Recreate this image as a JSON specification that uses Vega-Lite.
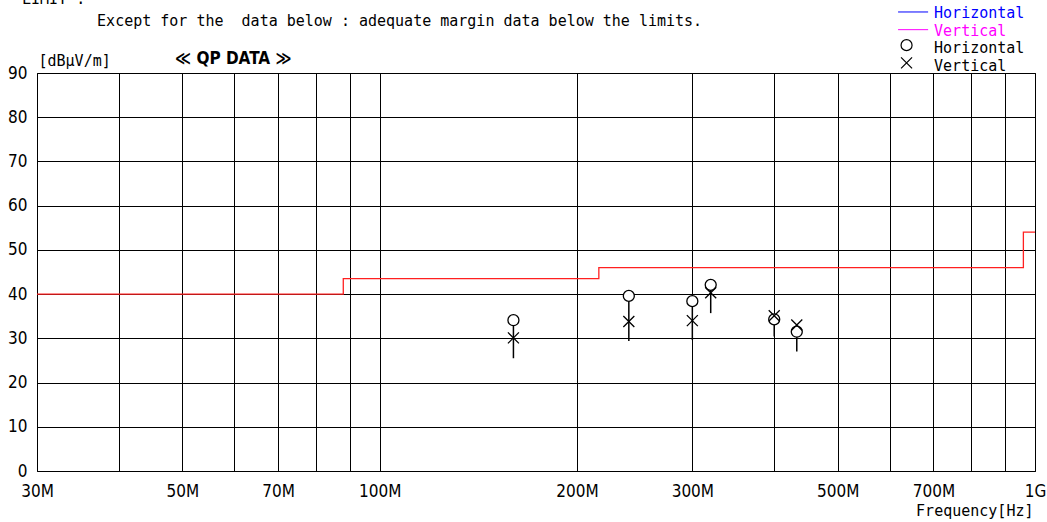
{
  "$schema": "https://vega.github.io/schema/vega-lite/v6.json",
  "width": 998,
  "height": 398,
  "autosize": {"type": "none"},
  "padding": {"left": 37, "top": 73, "right": 12, "bottom": 51},
  "background": "white",
  "config": {
    "view": {"stroke": "black", "strokeWidth": 1},
    "text": {"font": "DejaVu Sans Mono", "fontSize": 15, "color": "black"}
  },
  "datasets": {
    "limit": [
      {"f": 30, "db": 40},
      {"f": 88, "db": 43.5},
      {"f": 216, "db": 46},
      {"f": 960, "db": 54},
      {"f": 1000, "db": 54}
    ],
    "meas": [
      {"f": 160, "h": 34.1, "v": 30.1, "low": 25.5},
      {"f": 240, "h": 39.6, "v": 33.8, "low": 29.4},
      {"f": 300, "h": 38.4, "v": 34.0, "low": 29.6},
      {"f": 320, "h": 42.1, "v": 40.3, "low": 35.7},
      {"f": 400, "h": 34.3, "v": 35.1, "low": 30.4},
      {"f": 433, "h": 31.5, "v": 33.0, "low": 27.0}
    ]
  },
  "layer": [
    {
      "data": {"name": "limit"},
      "mark": {"type": "line", "interpolate": "step-after", "color": "#ff2020", "strokeWidth": 1.3},
      "encoding": {
        "x": {
          "field": "f", "type": "quantitative",
          "scale": {"type": "log", "domain": [30, 1000], "nice": false},
          "axis": {
            "title": "Frequency[Hz]",
            "titleFont": "DejaVu Sans Mono", "titleFontSize": 15, "titleFontWeight": "normal", "titleColor": "black",
            "titleAlign": "right", "titleAnchor": null, "titleBaseline": "alphabetic", "titleX": 996, "titleY": 44,
            "values": [30, 40, 50, 60, 70, 80, 90, 100, 200, 300, 400, 500, 600, 700, 800, 900, 1000],
            "labelExpr": "indexof([30,50,70,100,200,300,500,700], datum.value) >= 0 ? datum.value + 'M' : (datum.value == 1000 ? '1G' : '')",
            "grid": true, "gridColor": "black", "gridOpacity": 1, "gridWidth": 1,
            "ticks": false, "domain": false,
            "labelFont": "DejaVu Sans Condensed, sans-serif", "labelFontSize": 17, "labelColor": "black",
            "labelPadding": 12, "labelOverlap": false, "labelFlush": false, "labelBound": false
          }
        },
        "y": {
          "field": "db", "type": "quantitative",
          "scale": {"domain": [0, 90], "nice": false, "zero": false},
          "axis": {
            "title": "[dBμV/m]",
            "titleFont": "DejaVu Sans Mono", "titleFontSize": 15, "titleFontWeight": "normal", "titleColor": "black",
            "titleAngle": 0, "titleAlign": "left", "titleAnchor": null, "titleBaseline": "alphabetic", "titleX": 1, "titleY": -8,
            "values": [0, 10, 20, 30, 40, 50, 60, 70, 80, 90],
            "grid": true, "gridColor": "black", "gridOpacity": 1, "gridWidth": 1,
            "ticks": false, "domain": false,
            "labelFont": "DejaVu Sans Condensed, sans-serif", "labelFontSize": 17, "labelColor": "black",
            "labelPadding": 10, "labelOverlap": false, "labelFlush": false, "labelBound": false
          }
        }
      }
    },
    {
      "data": {"name": "meas"},
      "mark": {"type": "rule", "color": "black", "strokeWidth": 1.5},
      "encoding": {
        "x": {"field": "f", "type": "quantitative"},
        "y": {"field": "h", "type": "quantitative"},
        "y2": {"field": "low"}
      }
    },
    {
      "data": {"name": "meas"},
      "mark": {"type": "point", "shape": "circle", "size": 121, "filled": false, "fill": "white", "fillOpacity": 1, "stroke": "black", "strokeWidth": 1.3, "opacity": 1},
      "encoding": {
        "x": {"field": "f", "type": "quantitative"},
        "y": {"field": "h", "type": "quantitative"}
      }
    },
    {
      "data": {"name": "meas"},
      "mark": {"type": "point", "shape": "M-1,-1L1,1M-1,1L1,-1", "size": 121, "filled": false, "stroke": "black", "strokeWidth": 1.3, "opacity": 1},
      "encoding": {
        "x": {"field": "f", "type": "quantitative"},
        "y": {"field": "v", "type": "quantitative"}
      }
    },
    {
      "data": {"values": [{}]},
      "mark": {"type": "text", "align": "left", "baseline": "alphabetic", "text": "LIMIT :"},
      "encoding": {"x": {"datum": 28.46}, "y": {"datum": 105.6}}
    },
    {
      "data": {"values": [{}]},
      "mark": {"type": "text", "align": "left", "baseline": "alphabetic", "text": "Except for the\u00a0 data below : adequate margin data below the limits."},
      "encoding": {"x": {"datum": 37.05}, "y": {"datum": 100.6}}
    },
    {
      "data": {"values": [{}]},
      "mark": {"type": "text", "align": "left", "baseline": "alphabetic", "text": "≪ QP DATA ≫", "font": "DejaVu Sans Condensed, sans-serif", "fontWeight": "bold", "fontSize": 17},
      "encoding": {"x": {"datum": 48.73}, "y": {"datum": 92.0}}
    },
    {
      "data": {"values": [{}]},
      "mark": {"type": "rule", "color": "#0000ff", "strokeWidth": 1},
      "encoding": {"x": {"datum": 618.1}, "x2": {"datum": 686.9}, "y": {"datum": 103.8}}
    },
    {
      "data": {"values": [{}]},
      "mark": {"type": "rule", "color": "#ff00ff", "strokeWidth": 1},
      "encoding": {"x": {"datum": 618.1}, "x2": {"datum": 686.9}, "y": {"datum": 99.8}}
    },
    {
      "data": {"values": [{}]},
      "mark": {"type": "text", "align": "left", "baseline": "alphabetic", "text": "Horizontal", "color": "#0000ff"},
      "encoding": {"x": {"datum": 701.4}, "y": {"datum": 102.4}}
    },
    {
      "data": {"values": [{}]},
      "mark": {"type": "text", "align": "left", "baseline": "alphabetic", "text": "Vertical", "color": "#ff00ff"},
      "encoding": {"x": {"datum": 701.4}, "y": {"datum": 98.4}}
    },
    {
      "data": {"values": [{}]},
      "mark": {"type": "text", "align": "left", "baseline": "alphabetic", "text": "Horizontal"},
      "encoding": {"x": {"datum": 701.4}, "y": {"datum": 94.5}}
    },
    {
      "data": {"values": [{}]},
      "mark": {"type": "text", "align": "left", "baseline": "alphabetic", "text": "Vertical"},
      "encoding": {"x": {"datum": 701.4}, "y": {"datum": 90.5}}
    },
    {
      "data": {"values": [{}]},
      "mark": {"type": "point", "shape": "circle", "size": 121, "filled": false, "stroke": "black", "strokeWidth": 1.2, "opacity": 1},
      "encoding": {"x": {"datum": 636.8}, "y": {"datum": 96.3}}
    },
    {
      "data": {"values": [{}]},
      "mark": {"type": "point", "shape": "M-1,-1L1,1M-1,1L1,-1", "size": 121, "filled": false, "stroke": "black", "strokeWidth": 1.2, "opacity": 1},
      "encoding": {"x": {"datum": 636.8}, "y": {"datum": 92.3}}
    }
  ]
}
